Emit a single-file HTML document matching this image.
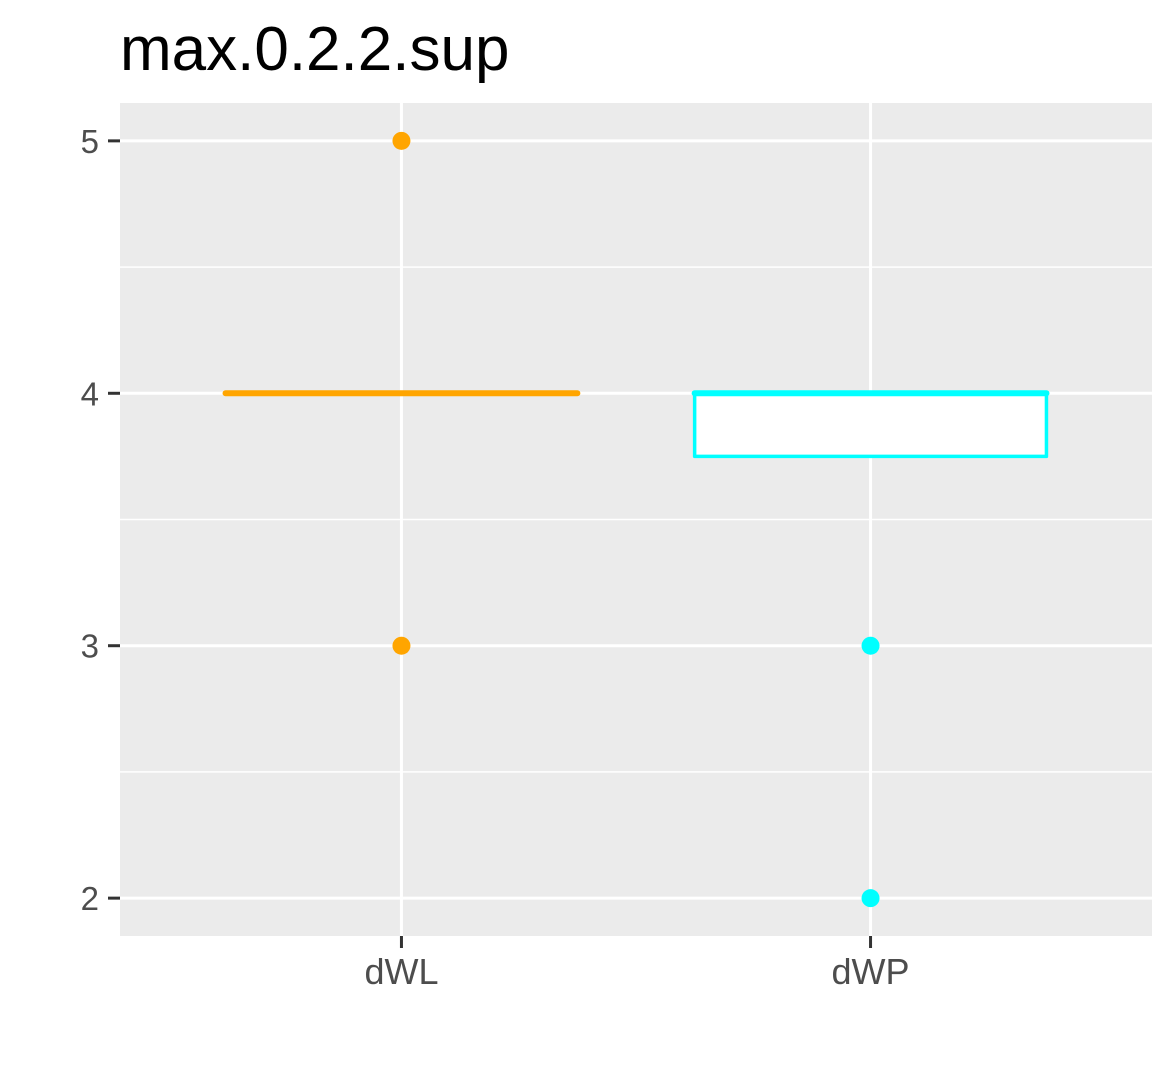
<!DOCTYPE html>
<html><head><meta charset="utf-8"><style>
html,body{margin:0;padding:0;background:#fff;}
svg{display:block;font-family:"Liberation Sans",Arial,sans-serif;}
</style></head><body>
<svg id="chart" width="1175" height="1075">
<text x="120" y="70" font-size="62" fill="#000">max.0.2.2.sup</text>
<rect x="120" y="103" width="1032" height="833" fill="#ebebeb"/>
<g id="grid"></g><g id="marks"></g><g id="axes"></g>
</svg>
<script>
const categories = ["dWL","dWP"];
const colors = ["#ffa500","#00ffff"];
const q1 = [4, 3.75];
const medians = [4, 4];
const q3 = [4, 4];
const whiskLow = [4, 3.75];
const whiskHigh = [4, 4];
const outliers = [[5,3],[3,2]];
const yTicks = [2,3,4,5];
const yMinor = [2.5,3.5,4.5];

const L=120,R=1152,T=103,B=936;
const ymin=1.85,ymax=5.15,xmin=0.4,xmax=2.6;
const y=v=>B-(v-ymin)/(ymax-ymin)*(B-T);
const x=v=>L+(v-xmin)/(xmax-xmin)*(R-L);
const NS="http://www.w3.org/2000/svg";
function mk(tag,attrs,parent){const e=document.createElementNS(NS,tag);for(const k in attrs)e.setAttribute(k,attrs[k]);parent.appendChild(e);return e;}
const grid=document.getElementById('grid'),marks=document.getElementById('marks'),axes=document.getElementById('axes');
yMinor.forEach(v=>{const e=mk('line',{x1:L,x2:R,y1:y(v),y2:y(v),stroke:'#fff','stroke-width':1.5},grid);

});
yTicks.forEach(v=>{const e=mk('line',{x1:L,x2:R,y1:y(v),y2:y(v),stroke:'#fff','stroke-width':3},grid);


const t=mk('line',{x1:L-12,x2:L,y1:y(v),y2:y(v),stroke:'#333','stroke-width':3},axes);


const l=mk('text',{x:L-21,y:y(v)+12,'font-size':33,fill:'#4d4d4d','text-anchor':'end'},axes);l.textContent=v;

});
categories.forEach((c,i)=>{const cx=x(i+1);
const g=mk('line',{x1:cx,x2:cx,y1:T,y2:B,stroke:'#fff','stroke-width':3},grid);


const t=mk('line',{x1:cx,x2:cx,y1:B,y2:B+12,stroke:'#333','stroke-width':3},axes);


const l=mk('text',{x:cx,y:B+48,'font-size':36,fill:'#4d4d4d','text-anchor':'middle'},axes);l.textContent=c;


const hw=0.375*(x(2)-x(1));const col=colors[i];
const wl=mk('line',{x1:cx,x2:cx,y1:y(whiskHigh[i]),y2:y(q3[i]),stroke:col,'stroke-width':3},marks);


const wl2=mk('line',{x1:cx,x2:cx,y1:y(q1[i]),y2:y(whiskLow[i]),stroke:col,'stroke-width':3},marks);


const b=mk('rect',{x:cx-hw,y:y(q3[i]),width:2*hw,height:Math.max(0,y(q1[i])-y(q3[i])),fill:'#fff',stroke:col,'stroke-width':3.5,'stroke-linejoin':'round'},marks);


const m=mk('line',{x1:cx-hw,x2:cx+hw,y1:y(medians[i]),y2:y(medians[i]),stroke:col,'stroke-width':6,'stroke-linecap':'round'},marks);


outliers[i].forEach(v=>{const p=mk('circle',{cx:cx,cy:y(v),r:9,fill:col},marks);

});
});
</script>
</body></html>
